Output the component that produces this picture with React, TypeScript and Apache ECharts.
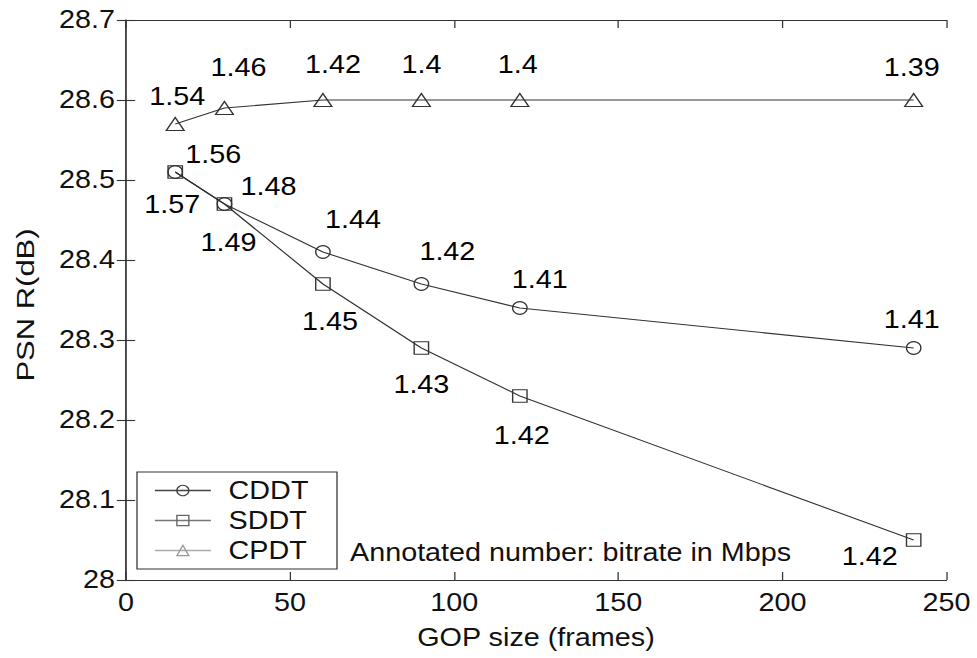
import React, { useEffect, useRef } from "react";
import * as echarts from "echarts";

const gopSizes = [15, 30, 60, 90, 120, 240];
const cddtPsnr = [28.51, 28.47, 28.41, 28.37, 28.34, 28.29];
const sddtPsnr = [28.51, 28.47, 28.37, 28.29, 28.23, 28.05];
const cpdtPsnr = [28.57, 28.59, 28.6, 28.6, 28.6, 28.6];

const cddtBitrate = ["1.56", "1.48", "1.44", "1.42", "1.41", "1.41"];
const sddtBitrate = ["1.57", "1.49", "1.45", "1.43", "1.42", "1.42"];
const cpdtBitrate = ["1.54", "1.46", "1.42", "1.4", "1.4", "1.39"];

// label placement (screen pixel offsets from each marker)
const cddtOffsets = [[38, -17], [44, -17], [30, -32], [26, -32], [20, -28], [-2, -28]];
const sddtOffsets = [[-3, 33], [4, 39], [7, 38], [0, 37], [2, 40], [-44, 17]];
const cpdtOffsets = [[2, -27], [14, -40], [10, -35], [0, -35], [-2, -35], [-2, -32]];

// the reference figure is stretched horizontally
const S = 1.15;
const px = (v: number) => v / S;

const FONT = "'Liberation Sans', Arial, Helvetica, sans-serif";
const FS = 25;

function buildData(ys: number[], labels: string[], offsets: number[][]) {
  return gopSizes.map((x, i) => ({
    value: [x, ys[i]],
    label: {
      show: true,
      formatter: labels[i],
      position: "inside",
      offset: [px(offsets[i][0]), offsets[i][1]],
      align: "center",
      verticalAlign: "middle",
      color: "#000",
      fontSize: FS,
      fontFamily: FONT,
    },
  }));
}

export default function App() {
  const ref = useRef<HTMLDivElement>(null);
  useEffect(() => {
    if (!ref.current) return;
    const chart = echarts.init(ref.current, null, { renderer: "svg" });
    const axisCommon = {
      type: "value",
      axisLine: { show: true, lineStyle: { color: "#333", width: 1.1 } },
      axisTick: { show: true, inside: true, length: 8, lineStyle: { color: "#333", width: 1.1 } },
      splitLine: { show: false },
    };
    const lineCol = "#333";
    const mkSeries = (name: string, symbol: string, size: number | number[], ys: number[], labels: string[], offs: number[][]) => ({
      name,
      type: "line",
      symbol,
      symbolSize: size,
      showAllSymbol: true,
      lineStyle: { color: lineCol, width: 1.1 },
      itemStyle: { color: "rgba(255,255,255,0)", borderColor: lineCol, borderWidth: 1.2 },
      emphasis: { disabled: true },
      data: buildData(ys, labels, offs),
      z: 3,
    });
    chart.setOption({
      animation: false,
      backgroundColor: "#fff",
      grid: { left: px(126), right: px(31), top: 20, bottom: 78, containLabel: false },
      xAxis: [
        {
          ...axisCommon,
          position: "bottom",
          min: 0,
          max: 250,
          interval: 50,
          axisLabel: { show: true, color: "#111", fontSize: FS, fontFamily: FONT, margin: 10 },
        },
        {
          ...axisCommon,
          position: "top",
          min: 0,
          max: 250,
          interval: 50,
          axisLabel: { show: false },
        },
      ],
      yAxis: [
        {
          ...axisCommon,
          position: "left",
          min: 28,
          max: 28.7,
          interval: 0.1,
          axisLabel: {
            show: true,
            color: "#111",
            fontSize: FS,
            fontFamily: FONT,
            margin: px(11),
            formatter: (v: number) => (Math.abs(v - 28) < 1e-9 ? "28" : v.toFixed(1)),
          },
        },
        {
          ...axisCommon,
          position: "right",
          min: 28,
          max: 28.7,
          interval: 0.1,
          axisLabel: { show: false },
        },
      ],
      legend: {
        orient: "vertical",
        left: px(140),
        top: 474,
        itemWidth: px(56),
        itemHeight: 13,
        itemGap: 1,
        padding: [2, 4, 2, px(14)],
        textStyle: { fontSize: FS, fontFamily: FONT, color: "#111", lineHeight: 29, padding: [0, 0, 0, px(12)] },
        data: [
          { name: "CDDT", itemStyle: { color: "rgba(255,255,255,0)", borderColor: "#444", borderWidth: 1.2 }, lineStyle: { color: "#444", width: 1.5 } },
          { name: "SDDT", itemStyle: { color: "rgba(255,255,255,0)", borderColor: "#666", borderWidth: 1.2 }, lineStyle: { color: "#777", width: 1.5 } },
          { name: "CPDT", itemStyle: { color: "rgba(255,255,255,0)", borderColor: "#999", borderWidth: 1.2 }, lineStyle: { color: "#aaa", width: 1.5 } },
        ],
      },
      graphic: [
        {
          type: "rect",
          shape: { x: px(137), y: 472, width: px(200), height: 97 },
          style: { fill: "rgba(255,255,255,0)", stroke: "#333", lineWidth: 1.1 },
          z: 1,
        },
        {
          type: "text",
          x: px(350),
          y: 553,
          style: { text: "Annotated number: bitrate in Mbps", fill: "#111", fontSize: FS, fontFamily: FONT, textAlign: "left", textVerticalAlign: "middle" },
        },
        {
          type: "text",
          x: px(536),
          y: 638,
          style: { text: "GOP size (frames)", fill: "#111", fontSize: FS, fontFamily: FONT, textAlign: "center", textVerticalAlign: "middle" },
        },
        {
          type: "text",
          x: px(26),
          y: 305,
          rotation: Math.PI / 2,
          scaleX: 1.24,
          scaleY: 0.82,
          style: { text: "PSN R(dB)", fill: "#111", fontSize: FS, fontFamily: FONT, textAlign: "center", textVerticalAlign: "middle" },
        },
      ],
      series: [
        mkSeries("CDDT", "circle", 12.5, cddtPsnr, cddtBitrate, cddtOffsets),
        mkSeries("SDDT", "rect", 12.5, sddtPsnr, sddtBitrate, sddtOffsets),
        mkSeries("CPDT", "triangle", [15.5, 13], cpdtPsnr, cpdtBitrate, cpdtOffsets),
      ],
    });
    return () => chart.dispose();
  }, []);
  return (
    <div
      ref={ref}
      style={{
        position: "fixed",
        left: 0,
        top: 0,
        width: px(977),
        height: 658,
        transform: `scaleX(${S})`,
        transformOrigin: "0 0",
      }}
    />
  );
}
